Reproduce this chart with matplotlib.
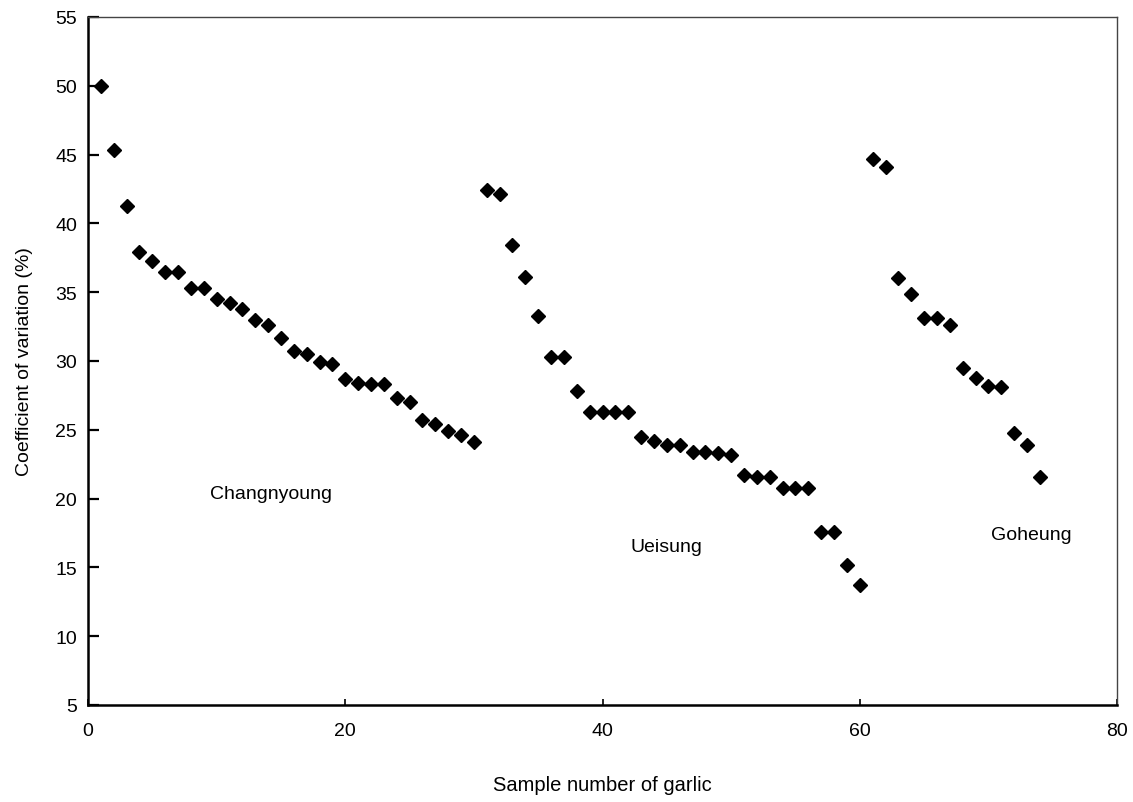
import matplotlib.pyplot as plt

# Данные: коэффициент вариации по образцам чеснока
changnyoung = [50.0, 45.3, 41.3, 37.9, 37.3, 36.5, 36.5, 35.3, 35.3, 34.5,
               34.2, 33.8, 33.0, 32.6, 31.7, 30.7, 30.5, 29.9, 29.8, 28.7,
               28.4, 28.3, 28.3, 27.3, 27.0, 25.7, 25.4, 24.9, 24.6, 24.1]
ueisung = [42.4, 42.1, 38.4, 36.1, 33.3, 30.3, 30.3, 27.8, 26.3, 26.3,
           26.3, 26.3, 24.5, 24.2, 23.9, 23.9, 23.4, 23.4, 23.3, 23.2,
           21.7, 21.6, 21.6, 20.8, 20.8, 20.8, 17.6, 17.6, 15.2, 13.7]
goheung = [44.7, 44.1, 36.0, 34.9, 33.1, 33.1, 32.6, 29.5, 28.8, 28.2,
           28.1, 24.8, 23.9, 21.6]
values = changnyoung + ueisung + goheung
samples = list(range(1, len(values) + 1))

region_names = ["Changnyoung", "Ueisung", "Goheung"]
region_label_x = [14.2, 45.0, 73.3]
region_label_y = [20.4, 16.5, 17.4]

x_ticks = [0, 20, 40, 60, 80]
y_ticks = list(range(5, 56, 5))

plt.rcParams['font.family'] = ['Liberation Sans', 'DejaVu Sans']

fig = plt.figure(figsize=(11.33, 8.03), dpi=100)
ax = fig.add_axes([0.0777, 0.1208, 0.9082, 0.8568])

ax.plot(samples, values, linestyle="none", marker="D", markersize=6.8,
        color="black")

for name, tx, ty in zip(region_names, region_label_x, region_label_y):
    ax.text(tx, ty, name, fontsize=14, ha="center", va="center")

ax.set_xlim(0, 80)
ax.set_ylim(5, 55)
ax.set_xticks(x_ticks)
ax.set_yticks(y_ticks)

# Рамка: левая и нижняя толще
for side in ["left", "bottom"]:
    ax.spines[side].set_linewidth(1.8)
for side in ["top", "right"]:
    ax.spines[side].set_linewidth(1.0)
    ax.spines[side].set_color("#444444")

ax.tick_params(axis="y", direction="in", length=8, width=1.6, labelsize=14,
               pad=8)
ax.tick_params(axis="x", direction="in", length=4, width=1.2, labelsize=14,
               pad=12)

ax.set_xlabel("Sample number of garlic", fontsize=14.5, labelpad=26)
ax.set_ylabel("Coefficient of variation (%)", fontsize=14, labelpad=16)

plt.savefig("out.png", dpi=100)
